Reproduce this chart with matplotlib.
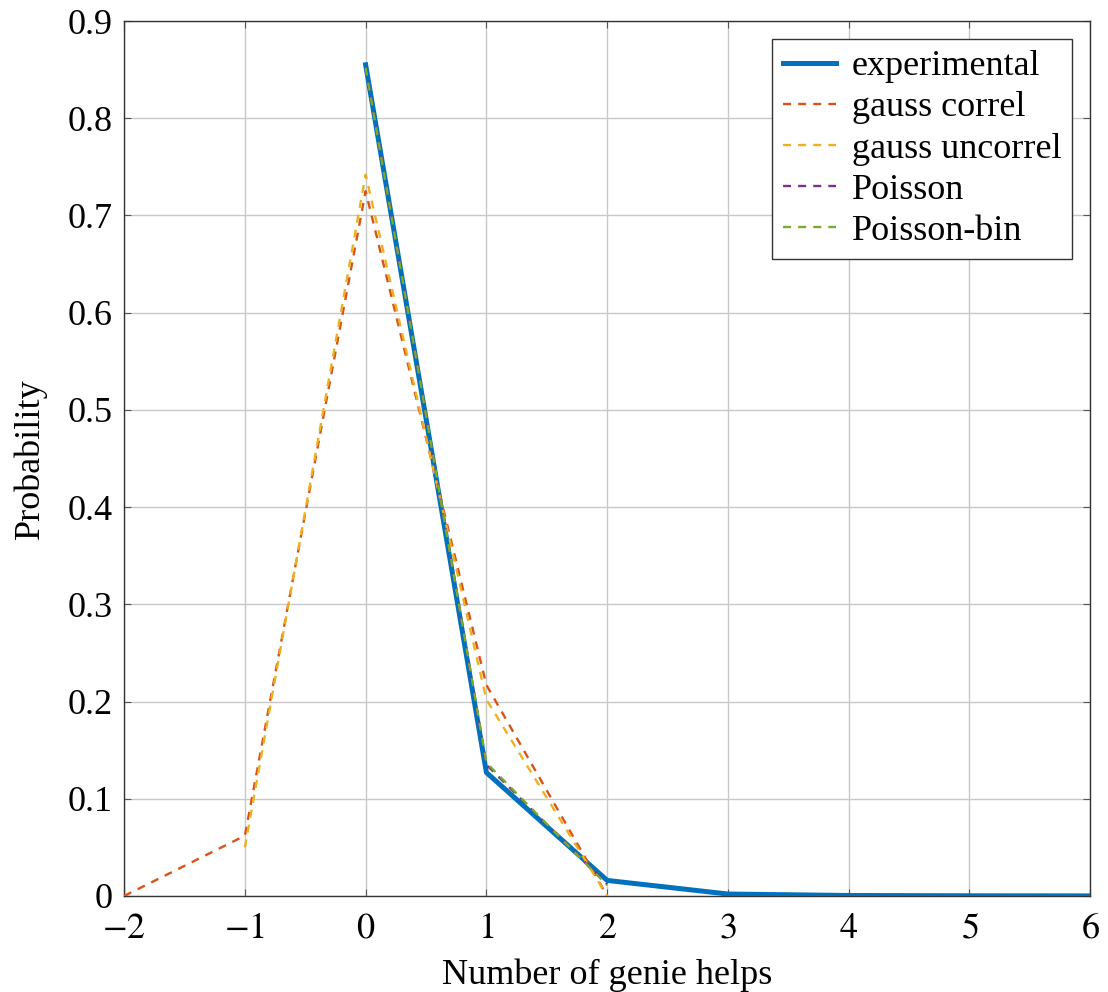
import matplotlib.pyplot as plt

# distribution of the number of genie helps
x_exp = [0, 1, 2, 3, 4, 5, 6]
p_exp = [0.855, 0.127, 0.016, 0.002, 0.0005, 0.0002, 0.0001]

x_gauss = [-2, -1, 0, 1, 2]
p_gauss_correl = [0.0, 0.062, 0.725, 0.217, 0.0]
x_gauss_unc = [-1, 0, 1, 2]
p_gauss_uncorrel = [0.050, 0.742, 0.202, 0.0]

x_pois = [0, 1, 2]
p_poisson = [0.853, 0.135, 0.012]
p_poisson_bin = [0.852, 0.137, 0.011]

plt.rcParams['font.family'] = ['Liberation Serif', 'DejaVu Serif']
plt.rcParams['mathtext.fontset'] = 'stix'
plt.rcParams['axes.unicode_minus'] = True

fig = plt.figure(figsize=(11.08, 9.92), dpi=100)
ax = fig.add_axes([0.112, 0.0968, 0.872, 0.882])

dash = (0, (3.4, 3.0))
ax.plot(x_exp, p_exp, color='#0072BD', lw=3.6, label='experimental', zorder=3)
ax.plot(x_gauss, p_gauss_correl, color='#D95319', lw=1.7, ls=dash, label='gauss correl', zorder=4)
ax.plot(x_gauss_unc, p_gauss_uncorrel, color='#EDB120', lw=1.7, ls=dash, label='gauss uncorrel', zorder=4)
ax.plot(x_pois, p_poisson, color='#7E2F8E', lw=1.7, ls=dash, label='Poisson', zorder=4)
ax.plot(x_pois, p_poisson_bin, color='#77AC30', lw=1.7, ls=dash, label='Poisson-bin', zorder=5)

ax.set_xlim(-2, 6)
ax.set_ylim(0, 0.9)
ax.set_xticks(range(-2, 7))
ax.set_yticks([i / 10 for i in range(10)])
ax.set_yticklabels(['0'] + [f'{i / 10:.1f}' for i in range(1, 10)])
ax.set_xticklabels([f'${v}$' if v >= 0 else f'$-{abs(v)}$' for v in range(-2, 7)])
ax.tick_params(direction='in', labelsize=26, length=5, width=0.8,
               top=True, right=True, color='#555555')
ax.tick_params(axis='x', pad=12)
ax.tick_params(axis='y', pad=8)
ax.grid(True, color='#c8c8c8', lw=1.0)
ax.set_axisbelow(True)
for s in ax.spines.values():
    s.set_color('#333333')
    s.set_linewidth(1.0)

ax.set_xlabel('Number of genie helps', fontsize=26, labelpad=9)
ax.set_ylabel('Probability', fontsize=26, labelpad=15)

leg = ax.legend(loc='upper right', fontsize=26, frameon=True, fancybox=False,
                edgecolor='#333333', framealpha=1, handlelength=1.45,
                labelspacing=0.22, borderaxespad=0.5, borderpad=0.3,
                handletextpad=0.45)
leg.get_frame().set_linewidth(1.0)

fig.savefig('out.png', dpi=100)
